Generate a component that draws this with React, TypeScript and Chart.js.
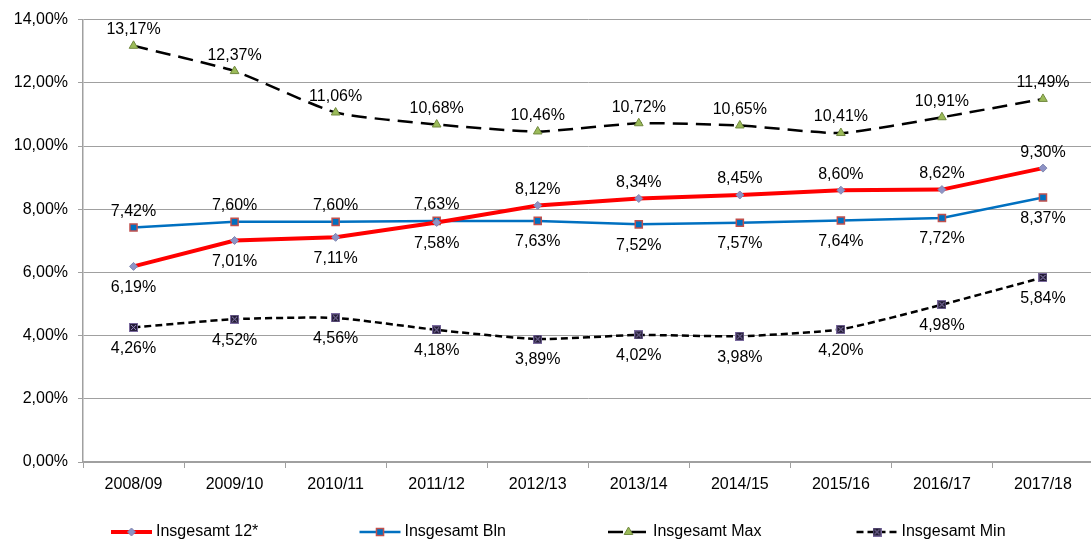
import React, { useEffect, useRef } from "react";
import { Chart, registerables } from "chart.js";
import { drawPoint } from "chart.js/helpers";

Chart.register(...registerables);

const categories = ["2008/09", "2009/10", "2010/11", "2011/12", "2012/13", "2013/14", "2014/15", "2015/16", "2016/17", "2017/18"];
const insgesamt12 = [6.19, 7.01, 7.11, 7.58, 8.12, 8.34, 8.45, 8.6, 8.62, 9.3];
const insgesamtBln = [7.42, 7.6, 7.6, 7.63, 7.63, 7.52, 7.57, 7.64, 7.72, 8.37];
const insgesamtMax = [13.17, 12.37, 11.06, 10.68, 10.46, 10.72, 10.65, 10.41, 10.91, 11.49];
const insgesamtMin = [4.26, 4.52, 4.56, 4.18, 3.89, 4.02, 3.98, 4.2, 4.98, 5.84];
const seriesNames = ["Insgesamt 12*", "Insgesamt Bln", "Insgesamt Max", "Insgesamt Min"];
const yMin = 0;
const yMax = 14;
const yStep = 2;

// label placement (above / below the point)
const labelPos12 = ["below", "below", "below", "below", "above", "above", "above", "above", "above", "above"];
const labelPosBln = ["above", "above", "above", "above", "below", "below", "below", "below", "below", "below"];
const labelPosMax = categories.map(() => "above");
const labelPosMin = categories.map(() => "below");

const FONT = '"Liberation Sans", Arial, sans-serif';
const fmt = (v: number) => v.toFixed(2).replace(".", ",") + "%";

function makeMinMarker(): HTMLCanvasElement {
  const c = document.createElement("canvas");
  c.width = 9;
  c.height = 9;
  const g = c.getContext("2d")!;
  g.fillStyle = "#231C36";
  g.fillRect(0, 0, 9, 9);
  g.strokeStyle = "#7A6A9E";
  g.lineWidth = 1;
  g.strokeRect(0.5, 0.5, 8, 8);
  g.strokeStyle = "#9C8CC4";
  g.beginPath();
  g.moveTo(2, 2);
  g.lineTo(7, 7);
  g.moveTo(7, 2);
  g.lineTo(2, 7);
  g.stroke();
  return c;
}

const dataLabelPlugin = {
  id: "dataLabels",
  afterDatasetsDraw(chart: any) {
    const ctx = chart.ctx;
    ctx.save();
    ctx.font = `16px ${FONT}`;
    ctx.fillStyle = "#000";
    ctx.textAlign = "center";
    ctx.textBaseline = "middle";
    chart.data.datasets.forEach((ds: any, i: number) => {
      const meta = chart.getDatasetMeta(i);
      meta.data.forEach((pt: any, j: number) => {
        const pos = ds.labelPos[j];
        const dy = pos === "above" ? -16 : 21;
        ctx.fillText(fmt(ds.data[j]), pt.x, pt.y + dy);
      });
    });
    ctx.restore();
  },
};

const legendPlugin = {
  id: "customLegend",
  afterDraw(chart: any) {
    const ctx = chart.ctx;
    ctx.save();
    const y = 532;
    chart.data.datasets.forEach((ds: any, i: number) => {
      const x0 = 111 + i * 248.5;
      ctx.strokeStyle = ds.borderColor;
      ctx.lineWidth = ds.borderWidth;
      ctx.setLineDash(ds.borderDash || []);
      ctx.beginPath();
      ctx.moveTo(x0, y);
      ctx.lineTo(x0 + 41, y);
      ctx.stroke();
      ctx.setLineDash([]);
      ctx.fillStyle = ds.pointBackgroundColor;
      ctx.strokeStyle = ds.pointBorderColor;
      ctx.lineWidth = ds.pointBorderWidth;
      drawPoint(ctx, { pointStyle: ds.pointStyle, radius: ds.pointRadius, borderWidth: ds.pointBorderWidth, rotation: 0 }, x0 + 20.5, y);
      ctx.fillStyle = "#000";
      ctx.font = `16px ${FONT}`;
      ctx.textAlign = "left";
      ctx.textBaseline = "middle";
      ctx.fillText(ds.label, x0 + 45, y);
    });
    ctx.restore();
  },
};

export default function App() {
  const ref = useRef<HTMLCanvasElement>(null);
  useEffect(() => {
    if (!ref.current) return;
    const minMarker = makeMinMarker();
    const chart = new Chart(ref.current, {
      type: "line",
      data: {
        labels: categories,
        datasets: [
          {
            label: seriesNames[0],
            data: insgesamt12,
            borderColor: "#FF0000",
            borderWidth: 4,
            pointStyle: "rectRot",
            pointRadius: 4,
            pointBackgroundColor: "#8E93C6",
            pointBorderColor: "#8088B0",
            pointBorderWidth: 1,
            tension: 0,
            labelPos: labelPos12,
          } as any,
          {
            label: seriesNames[1],
            data: insgesamtBln,
            borderColor: "#0070C0",
            borderWidth: 2.5,
            pointStyle: "rect",
            pointRadius: 5,
            pointBackgroundColor: "#0070C0",
            pointBorderColor: "#C0504D",
            pointBorderWidth: 1.5,
            tension: 0,
            labelPos: labelPosBln,
          } as any,
          {
            label: seriesNames[2],
            data: insgesamtMax,
            borderColor: "#000000",
            borderWidth: 2.5,
            borderDash: [15, 8],
            pointStyle: "triangle",
            pointRadius: 5,
            pointBackgroundColor: "#9BBB59",
            pointBorderColor: "#71893F",
            pointBorderWidth: 1,
            tension: 0.18,
            labelPos: labelPosMax,
          } as any,
          {
            label: seriesNames[3],
            data: insgesamtMin,
            borderColor: "#000000",
            borderWidth: 2.5,
            borderDash: [7, 4],
            pointStyle: minMarker,
            pointRadius: 4.5,
            pointBackgroundColor: "#231C36",
            pointBorderColor: "#7A6A9E",
            pointBorderWidth: 1,
            tension: 0.18,
            labelPos: labelPosMin,
          } as any,
        ],
      },
      options: {
        responsive: false,
        animation: false,
        layout: { padding: { top: 16, right: 5.5, bottom: 40, left: 0 } },
        plugins: { legend: { display: false }, tooltip: { enabled: false } },
        scales: {
          x: {
            type: "category",
            offset: true,
            grid: { offset: true, drawOnChartArea: false, drawTicks: true, tickLength: 6, color: "#A0A0A0", lineWidth: 1 },
            border: { color: "#A0A0A0", width: 1.5 },
            ticks: { font: { size: 16, family: FONT }, color: "#000", padding: 7, maxRotation: 0, autoSkip: false },
            afterFit: (s: any) => {
              s.height = 43;
            },
          },
          y: {
            min: yMin,
            max: yMax,
            grid: { color: "#A0A0A0", lineWidth: 1, tickLength: 5, drawTicks: true },
            border: { color: "#A0A0A0", width: 1.5 },
            ticks: {
              stepSize: yStep,
              font: { size: 16, family: FONT },
              color: "#000",
              padding: 10,
              callback: (v: any) => fmt(Number(v)),
            },
            afterFit: (s: any) => {
              s.width = 83;
            },
          },
        },
      },
      plugins: [dataLabelPlugin, legendPlugin],
    });
    return () => chart.destroy();
  }, []);
  return (
    <div style={{ position: "fixed", left: 0, top: 0, width: 1091, height: 545, overflow: "hidden", background: "#fff" }}>
      <canvas ref={ref} width={1100} height={545} style={{ display: "block", width: 1100, height: 545 }} />
    </div>
  );
}
